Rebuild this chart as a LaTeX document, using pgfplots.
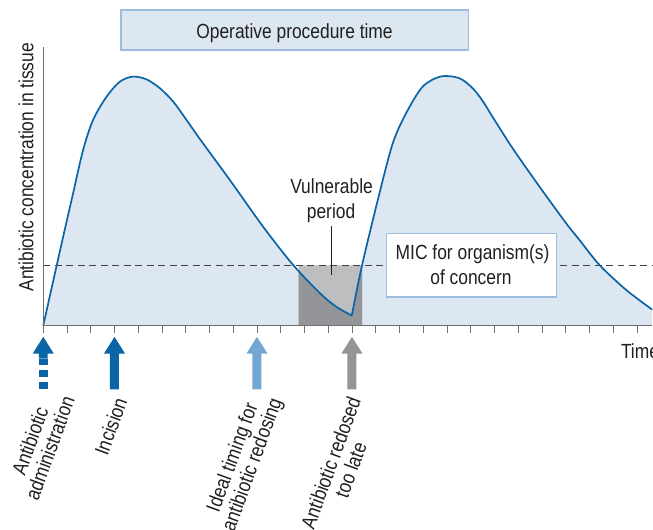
\documentclass[border=0pt]{standalone}
\usepackage{pgfplots}
\pgfplotsset{compat=1.18}
\usetikzlibrary{calc}
\usepackage{fontspec}
\setmainfont{Liberation Sans}[FakeStretch=0.85]
\definecolor{curveblue}{RGB}{10,100,166}
\definecolor{fillblue}{RGB}{221,231,242}
\definecolor{darkgray2}{RGB}{147,149,152}
\definecolor{lightgray2}{RGB}{188,190,192}
\definecolor{arrowlight}{RGB}{116,166,212}
\definecolor{boxborder}{RGB}{157,189,224}
\definecolor{txt}{RGB}{35,31,32}
\definecolor{axisgray}{RGB}{109,110,113}
\definecolor{dashgray}{RGB}{65,64,66}
\newcommand\lf{\fontsize{20.5bp}{25bp}\selectfont}
\newcommand\lfr{\fontsize{20.5bp}{21bp}\selectfont}
\begin{document}
\begin{tikzpicture}
\begin{axis}[
  scale only axis, width=609.7bp, height=279.3bp,
  xmin=0, xmax=25.64, ymin=0, ymax=279.3,
  axis x line*=bottom, axis y line*=left,
  axis line style={draw=axisgray, line width=1.3bp, -},
  xtick={0,...,25}, xticklabels={}, ytick=\empty,
  tick align=outside, major tick length=7bp,
  tick style={draw=axisgray, line width=0.9bp},
  clip=false, axis on top,
]
% frame of the picture
\path[draw=none] (axis cs:-1.821,-204) rectangle (axis cs:25.64,326);
% light blue areas
\addplot[fill=fillblue, draw=none, smooth] coordinates {
 (0,0) (0.81,86) (1.26,132.7) (1.68,176) (2.10,206) (2.67,229.3) (3.23,244.3)
 (3.78,249.3) (4.35,246.5) (4.91,237.7) (5.47,224.3) (6.03,206) (6.59,187)
 (7.85,146) (9.25,99.3) (10.51,61) (11.64,32.7) (12.3,19.5) (12.99,10)} \closedcycle;
\addplot[fill=fillblue, draw=none, smooth] coordinates {
 (12.99,10) (13.43,61) (14.16,132.7) (14.72,182.7) (15.28,212.7) (15.98,239.3)
 (16.75,249.5) (17.52,247.7) (18.08,237.7) (18.50,225) (18.92,209) (19.76,177.7)
 (20.89,139.3) (22.01,102.7) (22.57,86) (23.41,61) (24.53,36) (25.64,16)} \closedcycle;
% vulnerable period rectangle
\addplot[fill=lightgray2, draw=none] coordinates {(10.75,0) (10.75,60.3) (13.43,60.3) (13.43,0)} \closedcycle;
\addplot[fill=darkgray2, draw=none] coordinates {(10.75,0) (10.75,55) (11.2,43.6) (11.64,32.7) (12.0,25.3) (12.3,19.6) (12.65,14.3) (12.99,10) (13.2,34) (13.43,60.3) (13.43,0)} \closedcycle;
% MIC line
\addplot[draw=dashgray, line width=1bp, dash pattern=on 7bp off 4.5bp] coordinates {(0,60.3) (25.64,60.3)};
% visible curves
\addplot[draw=curveblue, line width=1.7bp, smooth] coordinates {
 (0,0) (0.81,86) (1.26,132.7) (1.68,176) (2.10,206) (2.67,229.3) (3.23,244.3)
 (3.78,249.3) (4.35,246.5) (4.91,237.7) (5.47,224.3) (6.03,206) (6.59,187)
 (7.85,146) (9.25,99.3) (10.51,61) (11.64,32.7) (12.3,19.5) (12.99,10)};
\addplot[draw=curveblue, line width=1.7bp, smooth] coordinates {
 (12.99,10) (13.43,61) (14.16,132.7) (14.72,182.7) (15.28,212.7) (15.98,239.3)
 (16.75,249.5) (17.52,247.7) (18.08,237.7) (18.50,225) (18.92,209) (19.76,177.7)
 (20.89,139.3) (22.01,102.7) (22.57,86) (23.41,61) (24.53,36) (25.64,16)};
% vulnerable period label
\addplot[draw=txt, line width=1bp] coordinates {(12.15,99.3) (12.15,51)};
\node[anchor=base, inner sep=0, font=\lf, text=txt] at (axis cs:12.14,132.7) {Vulnerable};
\node[anchor=base, inner sep=0, font=\lf, text=txt] at (axis cs:12.12,107.7) {period};
% MIC box
\draw[draw=boxborder, fill=white, line width=1.2bp] (axis cs:14.47,28.7) rectangle (axis cs:21.61,92);
\node[anchor=base, inner sep=0, font=\lf, text=txt] at (axis cs:18.08,66) {MIC for organism(s)};
\node[anchor=base, inner sep=0, font=\lf, text=txt] at (axis cs:18.01,41) {of concern};
% Operative procedure time box
\draw[draw=boxborder, fill=fillblue, line width=1.2bp] (axis cs:3.27,276) rectangle (axis cs:17.90,316);
\node[anchor=base, inner sep=0, font=\lf, text=txt] at (axis cs:10.58,287) {Operative procedure time};
% axis labels
\node[rotate=90, anchor=base, inner sep=0, font=\lf, text=txt] at (axis cs:-0.42,158.5) {Antibiotic concentration in tissue};
\node[overlay, anchor=base west, inner sep=0, font=\lf, text=txt] at (axis cs:24.32,-32.5) {Time};
% arrows
\fill[curveblue] (axis cs:0,-11.3) -- ++(10.5bp,-16.7bp) -- ++(-6bp,0) -- ++(0,-5bp) -- ++(-9bp,0) -- ++(0,5bp) -- ++(-6bp,0) -- cycle;
\fill[curveblue] ($(axis cs:0,-33.3)+(-4.5bp,0)$) rectangle ($(axis cs:0,-39.7)+(4.5bp,0)$);
\fill[curveblue] ($(axis cs:0,-44.7)+(-4.5bp,0)$) rectangle ($(axis cs:0,-51)+(4.5bp,0)$);
\fill[curveblue] ($(axis cs:0,-56.3)+(-4.5bp,0)$) rectangle ($(axis cs:0,-63.3)+(4.5bp,0)$);
\fill[curveblue] (axis cs:3,-11.3) -- ++(10.5bp,-16.7bp) -- ++(-6bp,0) -- ++(0,-36bp) -- ++(-9bp,0) -- ++(0,36bp) -- ++(-6bp,0) -- cycle;
\fill[arrowlight] (axis cs:9,-11.3) -- ++(10.5bp,-16.7bp) -- ++(-6bp,0) -- ++(0,-36bp) -- ++(-9bp,0) -- ++(0,36bp) -- ++(-6bp,0) -- cycle;
\fill[darkgray2] (axis cs:13,-11.3) -- ++(10.5bp,-16.7bp) -- ++(-6bp,0) -- ++(0,-36bp) -- ++(-9bp,0) -- ++(0,36bp) -- ++(-6bp,0) -- cycle;
% arrow labels
\node[overlay, rotate=70, anchor=east, align=center, inner sep=0, font=\lfr, text=txt] at (axis cs:0.64,-68) {Antibiotic\\administration};
\node[overlay, rotate=70, anchor=east, align=center, inner sep=0, font=\lfr, text=txt] at (axis cs:3.27,-73) {Incision};
\node[overlay, rotate=70, anchor=east, align=center, inner sep=0, font=\lfr, text=txt] at (axis cs:9.44,-69.8) {Ideal timing for\\antibiotic redosing};
\node[overlay, rotate=70, anchor=east, align=center, inner sep=0, font=\lfr, text=txt] at (axis cs:13.52,-75.5) {Antibiotic redosed\\too late};
\end{axis}
\end{tikzpicture}
\end{document}
